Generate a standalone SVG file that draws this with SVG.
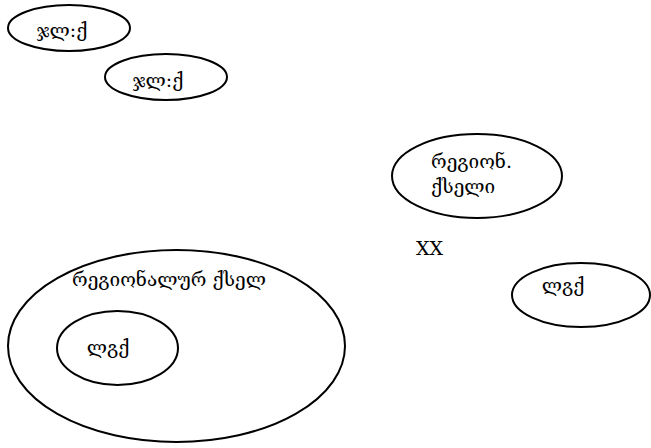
<svg xmlns="http://www.w3.org/2000/svg" width="651" height="448" viewBox="0 0 651 448">
<style>
ellipse{fill:none;stroke:#000;stroke-width:2}
text{font-family:"DejaVu Serif","Liberation Serif",serif;font-size:19px;fill:#000}
</style>
<rect width="651" height="448" fill="#fff"/>
<g id="n1"><ellipse cx="69" cy="28" rx="61" ry="23"/><text x="62" y="37" text-anchor="middle">ჯლ:ქ</text></g>
<g id="n2"><ellipse cx="166" cy="77" rx="61" ry="23"/><text x="158" y="87" text-anchor="middle">ჯლ:ქ</text></g>
<g id="n3"><ellipse cx="477" cy="176" rx="85" ry="42"/><text x="431" y="168">რეგიონ.</text><text x="431" y="193">ქსელი</text></g>
<g id="n4"><text x="416" y="255" font-family="Liberation Serif" font-size="21">XX</text></g>
<g id="n5"><ellipse cx="581" cy="295" rx="69" ry="32"/><text x="563" y="292" text-anchor="middle">ლგქ</text></g>
<g id="n6"><ellipse cx="176.5" cy="346" rx="168.5" ry="96"/><text x="72" y="286">რეგიონალურ ქსელ</text>
<g id="n7"><ellipse cx="117.5" cy="348" rx="60.5" ry="37"/><text x="108" y="354" text-anchor="middle">ლგქ</text></g></g>
<g id="connectors"/>
</svg>
